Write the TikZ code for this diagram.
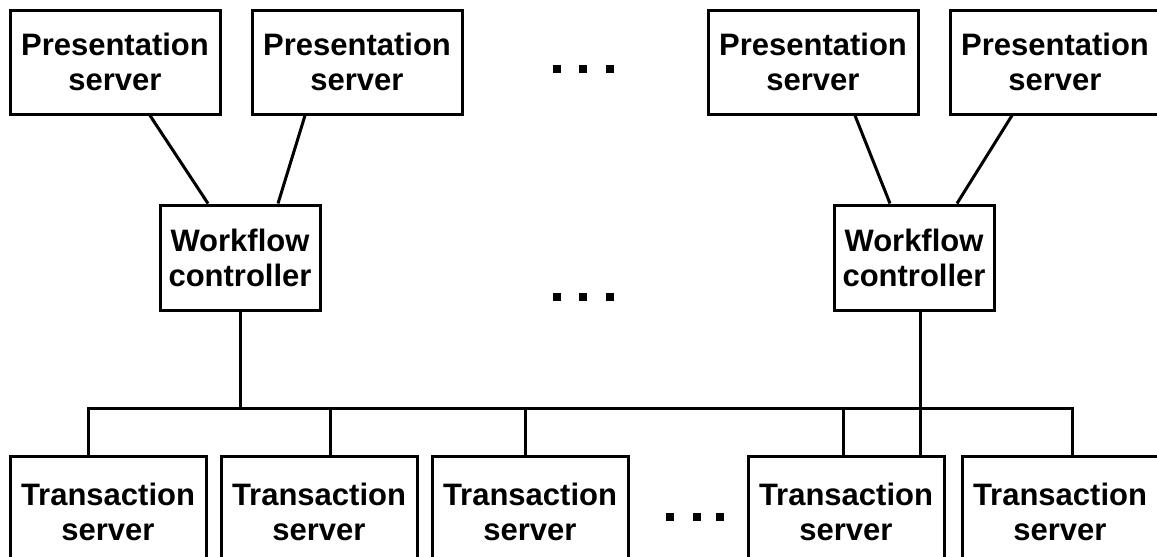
\documentclass[tikz,border=0pt]{standalone}
\usepackage{fontspec}
\setmainfont{Liberation Sans}
\usetikzlibrary{calc}
\tikzset{
  box/.style={draw, line width=3pt, align=center, inner sep=0pt,
              font=\fontsize{31}{35}\selectfont\bfseries},
  pbox/.style={box, minimum width=210pt, minimum height=104pt},
  wbox/.style={box, minimum width=160pt, minimum height=105pt},
  tbox/.style={box, minimum width=196pt, minimum height=110pt, anchor=north},
  wire/.style={line width=3pt},
  sq/.style={fill, minimum size=7.5pt, inner sep=0pt, draw=none},
}
\begin{document}
\begin{tikzpicture}[x=1pt,y=1pt]
\useasboundingbox (0,0) rectangle (1157,-557);
\clip (0,0) rectangle (1157,-557);

% presentation servers
\node[pbox] (P1) at (115,-62)  {Presentation\\server};
\node[pbox] (P2) at (357,-62)  {Presentation\\server};
\node[pbox] (P3) at (813,-62)  {Presentation\\server};
\node[pbox] (P4) at (1055,-62) {Presentation\\server};

% workflow controllers
\node[wbox] (W1) at (240,-257.5) {Workflow\\controller};
\node[wbox] (W2) at (914,-257.5) {Workflow\\controller};

% transaction servers
\node[tbox] (T1) at (108,-455)  {Transaction\\server};
\node[tbox] (T2) at (319,-455)  {Transaction\\server};
\node[tbox] (T3) at (530,-455)  {Transaction\\server};
\node[tbox] (T4) at (846,-455)  {Transaction\\server};
\node[tbox] (T5) at (1060,-455) {Transaction\\server};

% ellipses
\foreach \i/\x/\y in {a/557/69, b/583/69, c/610/69,
                      d/557/297, e/583/297, f/610/297,
                      g/670/517, h/697/517, k/720/517}
  \node[sq] (dot\i) at (\x,-\y) {};

% presentation -> workflow links
\draw[wire] ($(P1.south)+(35,0)$)  -- ($(W1.north)+(-32,0)$);
\draw[wire] ($(P2.south)+(-52,0)$) -- ($(W1.north)+(38,0)$);
\draw[wire] ($(P3.south)+(42,0)$)  -- ($(W2.north)+(-24,0)$);
\draw[wire] ($(P4.south)+(-43,0)$) -- ($(W2.north)+(43,0)$);

% shared bus to the transaction servers
\coordinate (bus) at (0,-408);
\coordinate (a1) at ($(T1.north)+(-20,0)$);
\coordinate (a2) at ($(T2.north)+(11,0)$);
\coordinate (a3) at ($(T3.north)+(-5,0)$);
\coordinate (a4) at ($(T4.north)+(-3,0)$);
\coordinate (a5) at ($(T5.north)+(12,0)$);
\draw[wire] (a1) |- (a5 |- bus) -- (a5);
\foreach \a in {a2,a3,a4}
  \draw[wire] (\a) -- (\a |- bus);

% controller links
\draw[wire] (W1.south) -- (W1.south |- bus);
\draw[wire] ($(W2.south)+(6,0)$) -- ($(T4.north)+(74,0)$);
\end{tikzpicture}
\end{document}
